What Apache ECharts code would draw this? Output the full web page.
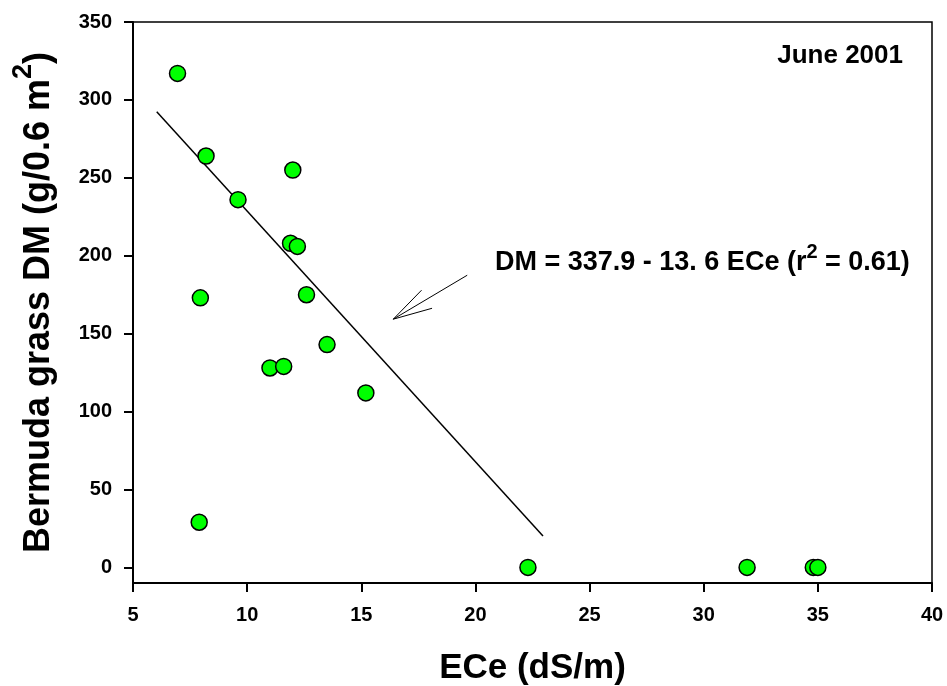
<!DOCTYPE html>
<html>
<head>
<meta charset="utf-8">
<script src="https://cdn.jsdelivr.net/npm/echarts@6/dist/echarts.min.js"></script>
<style>
  html, body { margin: 0; padding: 0; background: #fff; }
  #main { width: 947px; height: 686px; }
</style>
</head>
<body>
<div id="main"></div>
<script>
// 数据
var eceValues = [6.95, 8.2, 12.0, 9.6, 11.9, 12.2, 7.95, 12.6, 13.5, 11.0, 11.6, 15.2, 7.9, 22.3, 31.9, 34.8, 35.0];
var dmValues = [317, 264, 255, 236, 208, 206, 173, 175, 143, 128, 129, 112, 29, 0, 0, 0, 0];
var fitX = [6.04, 22.96];
var fitY = [292.4, 20.1];
var arrowX = [19.64, 16.40];
var arrowY = [187.5, 159.3];
var arrowHeadX = [17.64, 16.40, 18.10];
var arrowHeadY = [177.9, 159.3, 166.3];
var yTicks = [0, 50, 100, 150, 200, 250, 300, 350];

function pairs(xs, ys) {
    return xs.map(function (x, i) { return [x, ys[i]]; });
}

var font = 'Liberation Sans, Arial, sans-serif';
var myChart = echarts.init(document.getElementById('main'));
var option = {
    animation: false,
    backgroundColor: '#fff',
    textStyle: { fontFamily: font },
    title: [{
        text: 'June 2001',
        right: 44,
        top: 43,
        padding: 0,
        textStyle: { fontFamily: font, fontSize: 26, fontWeight: 'bold', color: '#000' }
    }, {
        text: '{b|DM = 337.9 - 13. 6 ECe (r}{s|2}{b| = 0.61)}',
        left: 495,
        top: 242,
        padding: 0,
        textStyle: {
            fontFamily: font,
            rich: {
                b: { fontFamily: font, fontSize: 27, fontWeight: 'bold', color: '#000', lineHeight: 34, verticalAlign: 'bottom' },
                s: { fontFamily: font, fontSize: 20, fontWeight: 'bold', color: '#000', lineHeight: 34, verticalAlign: 'top' }
            }
        }
    }],
    grid: {
        left: 133,
        right: 15,
        top: 22,
        bottom: 103,
        show: true,
        borderColor: '#000',
        borderWidth: 1.5,
        outerBoundsMode: 'none'
    },
    xAxis: {
        type: 'value',
        min: 5,
        max: 40,
        interval: 5,
        name: 'ECe (dS/m)',
        nameLocation: 'middle',
        nameGap: 68,
        nameTextStyle: { fontFamily: font, fontSize: 35, fontWeight: 'bold', color: '#000' },
        axisLine: { onZero: false, lineStyle: { color: '#000', width: 2 } },
        axisTick: { inside: false, length: 9, lineStyle: { color: '#000', width: 2 } },
        axisLabel: { margin: 22, fontFamily: font, fontSize: 20, fontWeight: 'bold', color: '#000' },
        splitLine: { show: false }
    },
    yAxis: {
        type: 'value',
        min: -10,
        max: 350,
        name: '{a|Bermuda grass DM (g/0.6 m}{s|2}{a|)}',
        nameLocation: 'middle',
        nameGap: 76,
        nameTextStyle: {
            rich: {
                a: { fontFamily: font, fontSize: 36, fontWeight: 'bold', color: '#000', lineHeight: 47, verticalAlign: 'bottom' },
                s: { fontFamily: font, fontSize: 27, fontWeight: 'bold', color: '#000', lineHeight: 47, verticalAlign: 'top' }
            }
        },
        axisLine: { onZero: false, lineStyle: { color: '#000', width: 2 } },
        axisTick: { inside: false, length: 9, customValues: yTicks, lineStyle: { color: '#000', width: 2 } },
        axisLabel: { margin: 21, customValues: yTicks, fontFamily: font, fontSize: 20, fontWeight: 'bold', color: '#000' },
        splitLine: { show: false }
    },
    series: [{
        name: 'fit',
        type: 'line',
        data: pairs(fitX, fitY),
        symbol: 'none',
        lineStyle: { color: '#000', width: 1.5 },
        z: 2
    }, {
        name: 'arrow',
        type: 'line',
        data: pairs(arrowX, arrowY),
        symbol: 'none',
        lineStyle: { color: '#000', width: 1 },
        z: 2
    }, {
        name: 'arrowHead',
        type: 'line',
        data: pairs(arrowHeadX, arrowHeadY),
        symbol: 'none',
        lineStyle: { color: '#000', width: 1 },
        z: 2
    }, {
        name: 'DM',
        type: 'scatter',
        data: pairs(eceValues, dmValues),
        symbol: 'circle',
        symbolSize: 16,
        itemStyle: { color: '#00ff00', borderColor: '#000', borderWidth: 1.5, opacity: 1 },
        z: 3
    }]
};
myChart.setOption(option);
</script>
</body>
</html>
